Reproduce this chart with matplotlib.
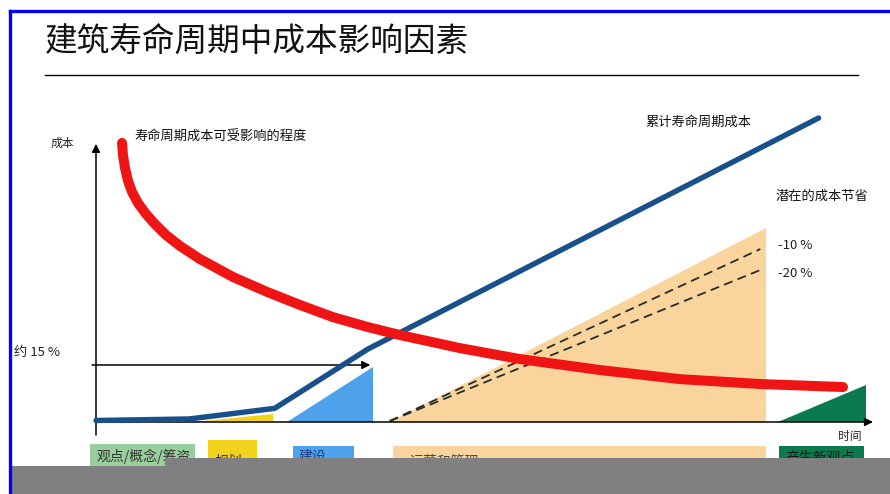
import matplotlib
matplotlib.use("Agg")
import matplotlib.pyplot as plt
from matplotlib.patches import Rectangle, Polygon
from matplotlib.lines import Line2D

plt.rcParams['font.family'] = ['Noto Sans CJK SC', 'DejaVu Sans']

# datos (tiempo 0-100, costo 0-100) ########################################
titulo = "建筑寿命周期中成本影响因素"

# costo acumulado del ciclo de vida (linea azul)
t_acum = [0, 12, 23, 35, 93]
c_acum = [0.5, 1.0, 4.5, 24.0, 100.0]

# grado en que se puede influir el costo (curva roja)
t_infl = [3.35, 3.47, 3.73, 4.12, 4.63, 5.41, 6.44, 7.59, 9.01, 10.81, 13.38, 17.63,
          22.01, 26.25, 30.50, 34.88, 39.12, 46.85, 54.57, 64.86, 75.16, 85.46, 96.14]
c_infl = [91.8, 87.8, 83.6, 79.3, 75.7, 72.0, 68.4, 65.1, 61.5, 57.9, 53.6, 47.7,
          42.8, 38.5, 34.5, 31.3, 28.6, 24.3, 20.7, 17.1, 14.1, 12.5, 11.5]

# fases: triangulos (inicio, fin, altura) y cajas de abajo (inicio, fin, techo)
fases = ["观点/概念/筹资", "规划", "建设", "运营和管理", "产生新观点"]
tri_ini = [None, 12.5, 24.6, 37.8, 87.8]
tri_fin = [None, 22.8, 35.6, 86.2, 99.1]
tri_alto = [None, 2.6, 18.1, 63.8, 12.2]
caja_ini = [-0.8, 14.4, 25.4, 38.2, 87.9]
caja_fin = [12.7, 20.7, 33.2, 86.2, 98.8]
caja_techo = [-7.2, -5.9, -7.9, -7.9, -7.9]
colores = ["#98cf9c", "#f2d21c", "#4ea2ec", "#f9d59d", "#0c7a4f"]
texto_caja = ["#333333", "#333333", "#1a3a80", "#444444", "#1a1a1a"]

# ahorro potencial (lineas punteadas)
ahorro_labels = ["-10 %", "-20 %"]
ahorro_t = [37.8, 85.5]
ahorro_c = [[0.3, 56.9], [0.3, 50.0]]

nivel_15 = 18.75  # "约 15 %"

# figura ###################################################################
W, H = 890, 494
fig = plt.figure(figsize=(W / 100, H / 100), dpi=100)
fig.patch.set_facecolor("white")

x0, x1, y0, y1 = 96, 873, 422, 118
ax = fig.add_axes([x0 / W, 1 - y0 / H, (x1 - x0) / W, (y0 - y1) / H])
ax.set_xlim(0, 100)
ax.set_ylim(0, 100)
ax.axis("off")

# triangulos de fases
for i in range(len(fases)):
    if tri_ini[i] is None:
        continue
    pts = [(tri_ini[i], 0), (tri_fin[i], 0), (tri_fin[i], tri_alto[i])]
    ax.add_patch(Polygon(pts, closed=True, facecolor=colores[i], edgecolor="none", zorder=1))

# lineas punteadas de ahorro
for k in range(len(ahorro_labels)):
    ax.plot(ahorro_t, ahorro_c[k], color="#2a2a2a", lw=1.3, linestyle=(0, (5, 3)), zorder=2)

# ejes con flechas
flecha = dict(arrowstyle="-|>", color="black", lw=1.1, mutation_scale=12, shrinkA=0, shrinkB=0)
ax.annotate("", xy=(100, 0), xytext=(0, 0), annotation_clip=False, arrowprops=flecha)
ax.annotate("", xy=(0, 91.5), xytext=(0, -4.3), annotation_clip=False, arrowprops=flecha)
ax.annotate("", xy=(35.3, nivel_15), xytext=(-0.5, nivel_15), annotation_clip=False, arrowprops=flecha)

# curvas
ax.plot(t_acum, c_acum, color="#17508a", lw=3.9, solid_capstyle="round", solid_joinstyle="round",
        zorder=3, clip_on=False)
ax.plot(t_infl, c_infl, color="#f01515", lw=7.2, solid_capstyle="round", solid_joinstyle="round",
        zorder=4, clip_on=False)

# textos
ax.text(-4.4, 91.8, "成本", fontsize=8.5, ha="center", va="center", color="#222222", clip_on=False)
ax.text(5.0, 93.8, "寿命周期成本可受影响的程度", fontsize=9.5, ha="left", va="center", color="#111111", clip_on=False)
ax.text(70.7, 98.7, "累计寿命周期成本", fontsize=9.5, ha="left", va="center", color="#111111", clip_on=False)
ax.text(87.4, 74.3, "潜在的成本节省", fontsize=9.5, ha="left", va="center", color="#111111", clip_on=False)
ax.text(87.8, 58.2, ahorro_labels[0], fontsize=9.5, ha="left", va="center", color="#222222", clip_on=False)
ax.text(87.8, 49.0, ahorro_labels[1], fontsize=9.5, ha="left", va="center", color="#222222", clip_on=False)
ax.text(-10.6, 23.0, "约 15 %", fontsize=9.5, ha="left", va="center", color="#222222", clip_on=False)
ax.text(95.5, -4.9, "时间", fontsize=8.5, ha="left", va="center", color="#222222", clip_on=False)

# cajas de fases abajo
caja_txt_y = [-11.2, -13.2, -11.5, -13.2, -11.5]
caja_txt_x = [0.1, 15.3, 26.0, 40.4, 88.7]
for i in range(len(fases)):
    ax.add_patch(Rectangle((caja_ini[i], -16), caja_fin[i] - caja_ini[i], caja_techo[i] + 16,
                           facecolor=colores[i], edgecolor="none", clip_on=False, zorder=1))
    ax.text(caja_txt_x[i], caja_txt_y[i], fases[i], fontsize=10, ha="left", va="center",
            color=texto_caja[i], clip_on=False, zorder=2)

# titulo y linea
fig.text(45 / W, 1 - 42 / H, titulo, fontsize=23.5, ha="left", va="center", color="#111111")
fig.add_artist(Line2D([45 / W, 858 / W], [1 - 75 / H, 1 - 75 / H], color="black", lw=1.0))

# banda gris de abajo
fig.add_artist(Rectangle((11 / W, 0), (165 - 11) / W, (H - 466) / H, transform=fig.transFigure,
                         facecolor="#808080", edgecolor="none", zorder=10))
fig.add_artist(Rectangle((165 / W, 0), (W - 165) / W, (H - 458) / H, transform=fig.transFigure,
                         facecolor="#808080", edgecolor="none", zorder=10))

# borde azul
fig.add_artist(Line2D([10 / W, 10 / W], [0, 1 - 11 / H], color="#0000ff", lw=2.4, zorder=11))
fig.add_artist(Line2D([10 / W, 1], [1 - 11 / H, 1 - 11 / H], color="#0000ff", lw=2.4, zorder=11))

fig.savefig("out.png", dpi=100)
